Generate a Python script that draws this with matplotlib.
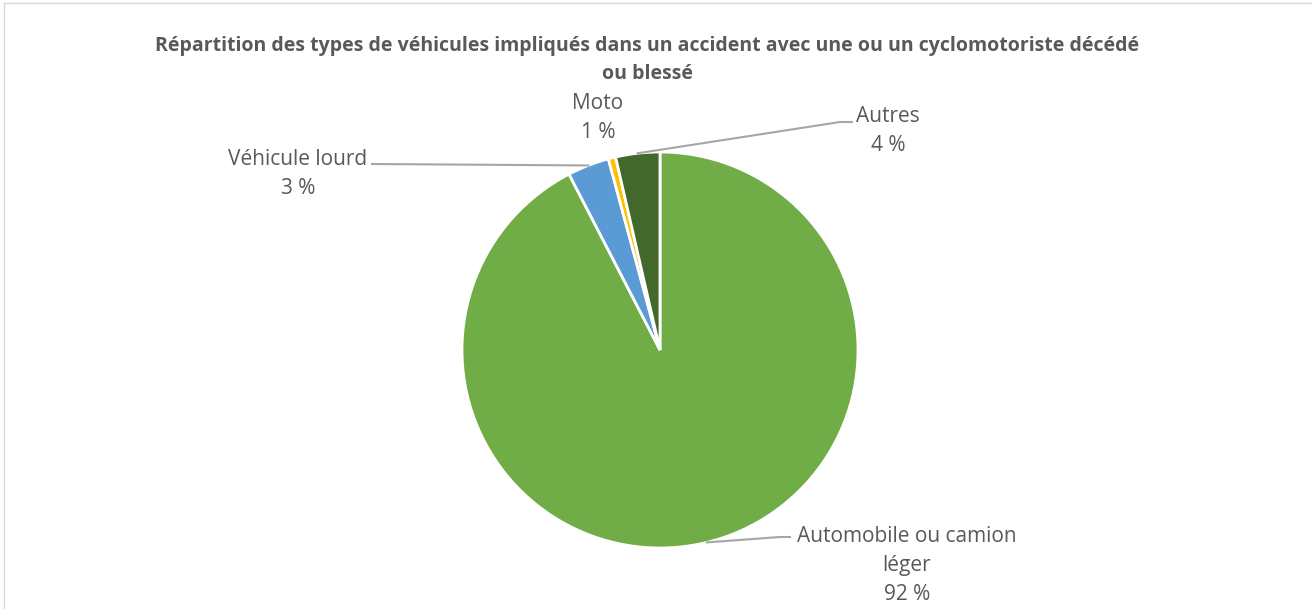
import numpy as np
import matplotlib.pyplot as plt

# données du graphique
categories = ["Automobile ou camion\nléger", "Véhicule lourd", "Moto", "Autres"]
valeurs = [92.4, 3.4, 0.6, 3.6]
couleurs = ["#70AD47", "#5B9BD5", "#FFC000", "#43682B"]
titre = ("Répartition des types de véhicules impliqués dans un accident avec une ou un cyclomotoriste décédé\n"
         "ou blessé")

W, H = 1312, 609
CX, CY, R = 660, 350, 198   # centre et rayon du camembert en pixels

plt.rcParams['font.family'] = ['Open Sans', 'DejaVu Sans']
gris = "#595959"

fig = plt.figure(figsize=(W / 100, H / 100), dpi=100)
ax = fig.add_axes([(CX - R) / W, (H - CY - R) / H, 2 * R / W, 2 * R / H])

wedges, _ = ax.pie(valeurs, colors=couleurs, startangle=90, counterclock=False,
                   radius=1, wedgeprops=dict(edgecolor='white', linewidth=2))
ax.set_xlim(-1, 1)
ax.set_ylim(-1, 1)
ax.set_aspect('equal')
ax.axis('off')


def px(x, y):
    # pixels de l'image -> coordonnées des données
    return (x - CX) / R, (CY - y) / R


def milieu(w):
    a = np.radians((w.theta1 + w.theta2) / 2)
    return np.cos(a), np.sin(a)


pct = [f"{round(v):.0f} %" for v in valeurs]

# position des étiquettes (pixels) et coude de la ligne de rappel
etiquettes = [
    ((907, 565), [(780, 537), (790, 537)]),
    ((298, 174), [(372, 164)]),
    ((598, 118), None),
    ((888, 131), [(840, 122), (852, 122)]),
]

for w, nom, p, (pos, ligne) in zip(wedges, categories, pct, etiquettes):
    tx, ty = px(*pos)
    ax.text(tx, ty, f"{nom}\n{p}", ha='center', va='center', color=gris,
            fontsize=15, linespacing=1.5, clip_on=False)
    if ligne:
        x0, y0 = milieu(w)
        pts = [(x0, y0)] + [px(*q) for q in ligne]
        xs, ys = zip(*pts)
        ax.plot(xs, ys, color="#A6A6A6", lw=1.5, clip_on=False)

fig.text(647 / W, 1 - 60 / H, titre, ha='center', va='center', color=gris,
         fontsize=14, fontweight='bold', linespacing=1.5)

# cadre du graphique
fig.add_artist(plt.Line2D([4 / W, 4 / W], [0, 1 - 3 / H], color="#D9D9D9", lw=1))
fig.add_artist(plt.Line2D([4 / W, 1], [1 - 3 / H, 1 - 3 / H], color="#D9D9D9", lw=1))

fig.savefig("out.png", dpi=100)
